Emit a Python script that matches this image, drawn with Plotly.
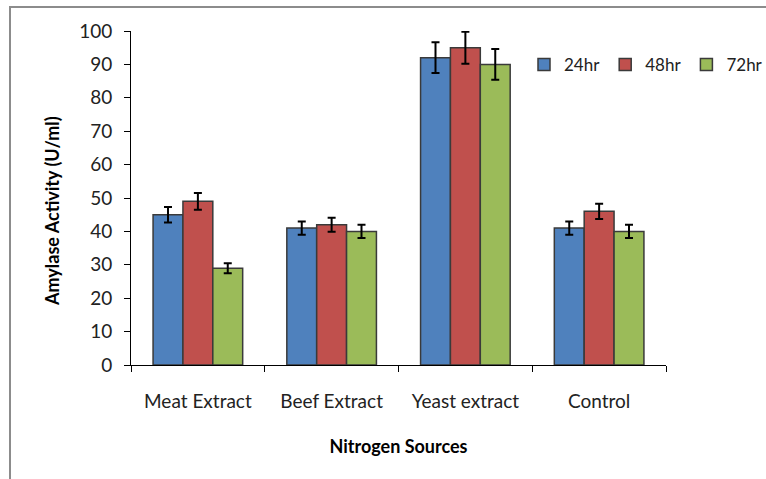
import plotly.graph_objects as go

# Nitrogen source categories and amylase activity (U/ml) per incubation time
categories = ["Meat Extract", "Beef Extract", "Yeast extract", "Control"]
series_names = ["24hr", "48hr", "72hr"]
activity_24 = [45, 41, 92, 41]
activity_48 = [49, 42, 95, 46]
activity_72 = [29, 40, 90, 40]
error_24 = [2.3, 2.0, 4.6, 2.0]
error_48 = [2.5, 2.1, 4.8, 2.3]
error_72 = [1.5, 2.0, 4.6, 2.0]
y_ticks = [0, 10, 20, 30, 40, 50, 60, 70, 80, 90, 100]

fills = ["#4F81BD", "#C0504D", "#9BBB59"]
FONT = "Lato, 'Open Sans', sans-serif"

# plot area in pixels: x 131..666, y 31..365
PW, PH = 535, 334

fig = go.Figure()
for name, vals, errs, col in zip(series_names,
                                 [activity_24, activity_48, activity_72],
                                 [error_24, error_48, error_72], fills):
    fig.add_trace(go.Bar(
        name=name, x=categories, y=vals,
        marker=dict(color=col, line=dict(color="#3a3a3a", width=1.5)),
        error_y=dict(type="data", array=errs, visible=True,
                     color="black", thickness=2, width=4),
    ))

fig.update_layout(
    width=766, height=479,
    margin=dict(l=131, r=100, t=31, b=114, autoexpand=False),
    paper_bgcolor="white", plot_bgcolor="white",
    barmode="group", bargap=0.33, bargroupgap=0,
    font=dict(family=FONT, size=19, color="#222"),
    showlegend=True,
    legend=dict(orientation="h", x=(524 - 131) / PW, y=(365 - 65) / PH,
                xanchor="left", yanchor="middle",
                font=dict(size=17, family=FONT),
                bgcolor="rgba(0,0,0,0)", itemwidth=30, traceorder="normal"),
    xaxis=dict(
        showline=True, linecolor="black", linewidth=1,
        ticks="outside", ticklen=6, tickcolor="black", tickson="boundaries",
        ticklabelstandoff=19,
        tickfont=dict(size=19, family=FONT, color="#222"),
        title=dict(text="<b>Nitrogen Sources</b>", standoff=29,
                   font=dict(size=18, family=FONT, color="black")),
    ),
    yaxis=dict(
        range=[0, 100], tickvals=y_ticks,
        showline=True, linecolor="black", linewidth=1, showgrid=False,
        ticks="outside", ticklen=6, tickcolor="black", zeroline=False,
        ticklabelstandoff=8,
        tickfont=dict(size=19, family=FONT, color="#222"),
    ),
    annotations=[dict(text="<b>Amylase Activity (U/ml)</b>", textangle=-90,
                      xref="paper", yref="paper",
                      x=(52 - 131) / PW, y=(365 - 211) / PH,
                      xanchor="center", yanchor="middle", showarrow=False,
                      font=dict(size=18, family=FONT, color="black"))],
    # chart frame: only its top and left edges fall inside the page
    shapes=[dict(type="rect", xref="paper", yref="paper",
                 x0=(10 - 131) / PW, x1=(780 - 131) / PW,
                 y0=(365 - 490) / PH, y1=(365 - 7) / PH,
                 line=dict(color="#8c8c8c", width=2), layer="below")],
)

fig.write_html("out.html")
